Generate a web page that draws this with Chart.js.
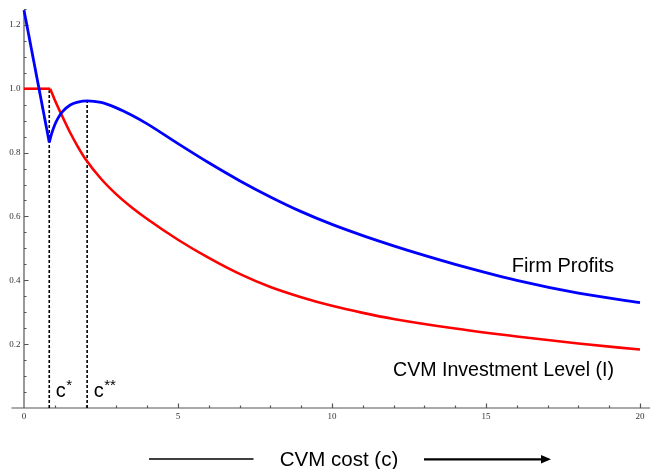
<!DOCTYPE html>
<html>
<head>
<meta charset="utf-8">
<script src="https://cdn.jsdelivr.net/npm/chart.js@4.4.1/dist/chart.umd.min.js"></script>
<style>
  html, body { margin: 0; padding: 0; background: #ffffff; }
  #wrap { width: 653px; height: 469px; position: relative; }
</style>
</head>
<body>
<div id="wrap"><canvas id="c" width="653" height="469"></canvas></div>
<script>
// ---- data ----
const xTicks = [0, 5, 10, 15, 20];
const yTicks = [0.2, 0.4, 0.6, 0.8, 1.0, 1.2];

// Firm Profits (blue); index 1 is the kink at c*
const profitCost  = [0, 0.82, 0.9, 1.0, 1.1, 1.25, 1.5, 1.75, 2.05, 2.5, 3.0, 3.5, 4.0, 5.0, 6.0, 7.0, 8.0, 9.0, 10.0, 11.0, 12.0, 13.0, 14.0, 16.0, 18.0, 20.0];
const profitValue = [1.246, 0.832, 0.860, 0.887, 0.907, 0.928, 0.949, 0.958, 0.962, 0.957, 0.940, 0.917, 0.890, 0.828, 0.768, 0.712, 0.661, 0.615, 0.575, 0.540, 0.508, 0.478, 0.450, 0.400, 0.360, 0.330];

// CVM Investment Level (red); index 1 is the kink
const investCost  = [0, 0.85, 1.0, 1.25, 1.5, 1.75, 2.0, 2.5, 3.0, 3.5, 4.0, 5.0, 6.0, 7.0, 8.0, 9.0, 10.0, 11.0, 12.0, 14.0, 16.0, 18.0, 20.0];
const investValue = [1.0, 1.0, 0.965, 0.912, 0.862, 0.818, 0.779, 0.718, 0.669, 0.628, 0.592, 0.527, 0.470, 0.420, 0.379, 0.347, 0.320, 0.298, 0.279, 0.249, 0.224, 0.202, 0.183];

// reference markers
const markerCost  = [0.82, 2.05];      // c*, c**
const markerTop   = [0.995, 0.962];    // where the dashed lines end
const markerNames = ['c', 'c'];
const markerStars = ['*', '**'];

const seriesNames = ['Firm Profits', 'CVM Investment Level (I)'];
const xTitle = 'CVM cost (c)';

// ---- build datasets ----
const pts = (xs, ys, a, b) => xs.slice(a, b).map((x, i) => ({ x: x, y: ys[a + i] }));
const kinkP = 1, kinkI = 1;

const datasets = [
  { data: pts(profitCost, profitValue, 0, kinkP + 1), borderColor: '#0000ff', borderWidth: 2.8, tension: 0 },
  { data: pts(profitCost, profitValue, kinkP, profitCost.length), borderColor: '#0000ff', borderWidth: 2.8, cubicInterpolationMode: 'monotone' },
  { data: pts(investCost, investValue, 0, kinkI + 1), borderColor: '#ff0000', borderWidth: 2.6, tension: 0 },
  { data: pts(investCost, investValue, kinkI, investCost.length), borderColor: '#ff0000', borderWidth: 2.6, cubicInterpolationMode: 'monotone' }
];
markerCost.forEach((c, i) => {
  datasets.push({ data: [{ x: c, y: 0 }, { x: c, y: markerTop[i] }], borderColor: '#000000', borderWidth: 1.6, borderDash: [3, 2], tension: 0 });
});
datasets.forEach(d => { d.pointRadius = 0; d.fill = false; d.clip = false; d.borderCapStyle = 'butt'; d.borderJoinStyle = 'round'; });

const decorPlugin = {
  id: 'decor',
  beforeDatasetsDraw(chart) {
    const ctx = chart.ctx, xs = chart.scales.x, ys = chart.scales.y;
    const x0 = xs.getPixelForValue(0), y0 = ys.getPixelForValue(0);
    ctx.save();
    ctx.strokeStyle = '#555555';
    ctx.lineWidth = 1.2;
    ctx.beginPath();
    ctx.moveTo(11.5, y0); ctx.lineTo(650, y0);
    ctx.moveTo(x0, y0); ctx.lineTo(x0, chart.chartArea.top + 1);
    // y ticks (inside)
    for (let k = 1; k <= 25; k++) {
      const v = k * 0.05, py = Math.round(ys.getPixelForValue(v)) + 0.5;
      const len = (k % 4 === 0) ? 4.5 : 2.5;
      ctx.moveTo(x0, py); ctx.lineTo(x0 + len, py);
    }
    // x ticks (inside)
    for (let k = 1; k <= 20; k++) {
      const px = Math.round(xs.getPixelForValue(k)) + 0.5;
      const len = (k % 5 === 0) ? 4.5 : 2.5;
      ctx.moveTo(px, y0); ctx.lineTo(px, y0 - len);
    }
    ctx.stroke();
    ctx.restore();
  },
  afterDatasetsDraw(chart) {
    const ctx = chart.ctx, xs = chart.scales.x, ys = chart.scales.y;
    ctx.save();
    ctx.fillStyle = '#000000';
    ctx.textBaseline = 'alphabetic';
    ctx.textAlign = 'left';
    ctx.font = '20px "Liberation Sans", Arial, sans-serif';
    ctx.fillText(seriesNames[0], xs.getPixelForValue(15.84), ys.getPixelForValue(0.425));
    ctx.font = '19.6px "Liberation Sans", Arial, sans-serif';
    ctx.fillText(seriesNames[1], xs.getPixelForValue(11.98), ys.getPixelForValue(0.1));
    // c*, c**
    markerCost.forEach((c, i) => {
      const px = xs.getPixelForValue(c) + 6.5;
      const py = ys.getPixelForValue(0) - 11;
      ctx.font = '20px "Liberation Sans", Arial, sans-serif';
      ctx.fillText(markerNames[i], px, py);
      const w = ctx.measureText(markerNames[i]).width;
      ctx.font = '15px "Liberation Sans", Arial, sans-serif';
      ctx.fillText(markerStars[i], px + w + 0.5, py - 7);
    });
    // bottom title with lines and arrow
    ctx.font = '20.5px "Liberation Sans", Arial, sans-serif';
    ctx.textAlign = 'center';
    ctx.fillText(xTitle, 339, 465.5);
    ctx.strokeStyle = '#000000';
    ctx.lineWidth = 1.3;
    ctx.beginPath(); ctx.moveTo(149, 459); ctx.lineTo(253.5, 459); ctx.stroke();
    ctx.lineWidth = 2.2;
    ctx.beginPath(); ctx.moveTo(424, 459.3); ctx.lineTo(543, 459.3); ctx.stroke();
    ctx.beginPath(); ctx.moveTo(551, 459.3); ctx.lineTo(541, 455); ctx.lineTo(541, 463.6); ctx.closePath(); ctx.fill();
    ctx.restore();
  }
};

new Chart(document.getElementById('c'), {
  type: 'line',
  data: { datasets: datasets },
  options: {
    responsive: false,
    animation: false,
    events: [],
    layout: { padding: { top: 8, right: 13, left: 0, bottom: 0 } },
    plugins: { legend: { display: false }, tooltip: { enabled: false } },
    scales: {
      x: {
        type: 'linear', min: 0, max: 20,
        grid: { display: false, drawTicks: false },
        border: { display: false },
        afterBuildTicks: s => { s.ticks = xTicks.map(v => ({ value: v })); },
        afterFit: s => { s.height = 61; },
        ticks: { padding: 3, maxRotation: 0, autoSkip: false, color: '#333333',
                 font: { family: '"Liberation Serif", "Times New Roman", serif', size: 9 } }
      },
      y: {
        type: 'linear', min: 0, max: 1.25,
        grid: { display: false, drawTicks: false },
        border: { display: false },
        afterBuildTicks: s => { s.ticks = yTicks.map(v => ({ value: v })); },
        afterFit: s => { s.width = 24; },
        ticks: { padding: 3.5, color: '#333333',
                 callback: v => v.toFixed(1),
                 font: { family: '"Liberation Serif", "Times New Roman", serif', size: 9 } }
      }
    }
  },
  plugins: [decorPlugin]
});
</script>
</body>
</html>
